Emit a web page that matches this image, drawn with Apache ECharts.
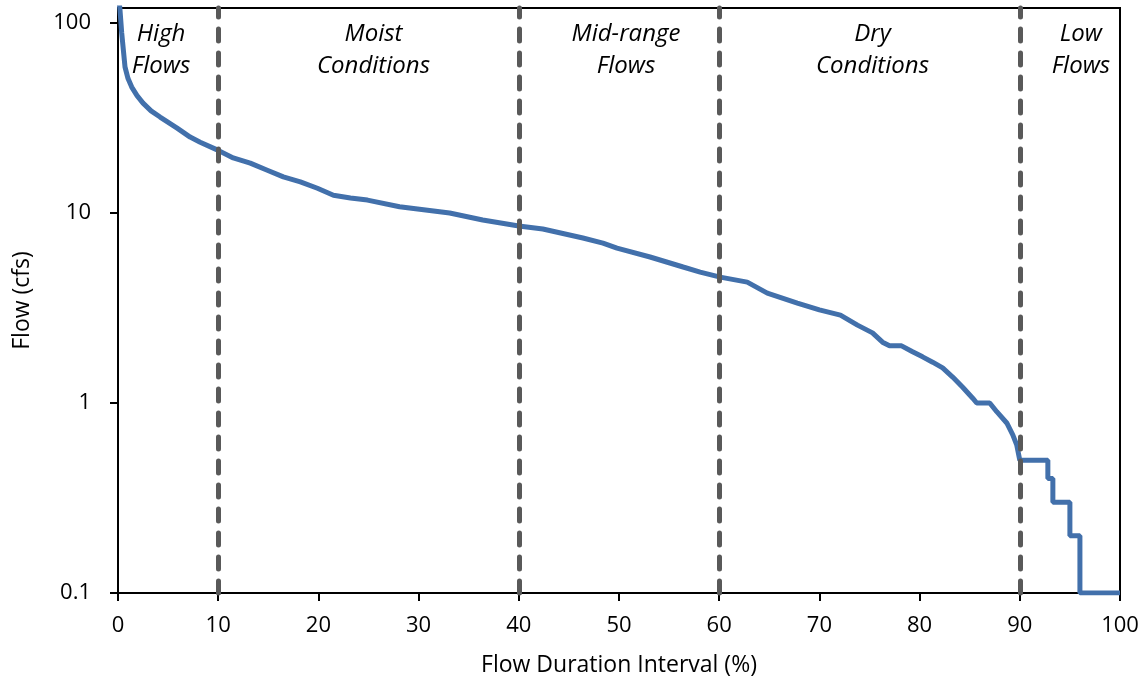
<!DOCTYPE html>
<html>
<head>
<meta charset="utf-8">
<script src="https://cdn.jsdelivr.net/npm/echarts@6/dist/echarts.min.js"></script>
<style>
  html, body { margin: 0; padding: 0; background: #fff; }
  #chart { width: 1146px; height: 683px; }
</style>
</head>
<body>
<div id="chart"></div>
<script>
// flow duration curve
var durationPct = [0, 0.2, 0.37, 0.7, 1.0, 1.37, 1.9, 2.5, 3.3, 4.2, 5.9, 7.2, 8.2, 9.9, 11.5, 13.2, 14.9, 16.5, 18.2, 19.9, 21.5, 23.2, 24.9,
  28.1, 33.1, 36.4, 40.0, 42.4, 46.4, 48.4, 49.8, 53.1, 56.4, 58.1, 60.1, 62.8, 64.8, 67.8, 70, 72.1, 73.8, 75.3, 76.3,
  77.0, 78.2, 79.3, 80.3, 81.3, 82.3, 83.3, 84.3, 85.3, 85.7, 87.0, 87.7, 88.7, 89.3, 89.7, 90.0, 92.8, 92.8, 93.3, 93.3,
  95.0, 95.0, 96.0, 96.0, 100];
var flowCfs = [150, 117, 88.6, 58.7, 51, 46, 41.5, 37.9, 34.5, 32, 28, 25.1, 23.6, 21.5, 19.5, 18.3, 16.8, 15.5, 14.6, 13.5, 12.4, 12.0, 11.7,
  10.8, 10.0, 9.19, 8.55, 8.24, 7.39, 6.95, 6.54, 5.87, 5.20, 4.89, 4.60, 4.33, 3.79, 3.36, 3.09, 2.90, 2.57, 2.34, 2.09,
  2.0, 2.0, 1.86, 1.75, 1.64, 1.53, 1.37, 1.21, 1.06, 1.0, 1.0, 0.9, 0.785, 0.68, 0.6, 0.5, 0.5, 0.4, 0.4, 0.3,
  0.3, 0.2, 0.2, 0.1, 0.1];

var zoneBreaks = [10, 40, 60, 90];
var zoneNames = ['High\nFlows', 'Moist\nConditions', 'Mid-range\nFlows', 'Dry\nConditions', 'Low\nFlows'];
var zoneCenters = [4.3, 25.5, 50.7, 75.3, 96.1];
var yTicks = [0.1, 1, 10, 100];

var font = 'Open Sans';
var chart = echarts.init(document.getElementById('chart'));

var points = durationPct.map(function (x, i) { return [x, flowCfs[i]]; });

var option = {
  animation: false,
  grid: {
    left: 118, right: 26, top: 8, bottom: 90,
    show: true, borderColor: '#000', borderWidth: 2
  },
  xAxis: {
    type: 'value', min: 0, max: 100, interval: 10,
    name: 'Flow Duration Interval (%)', nameLocation: 'middle', nameGap: 61,
    nameTextStyle: { fontFamily: font, fontSize: 23, color: '#000' },
    axisLine: { lineStyle: { color: '#000', width: 2 } },
    axisTick: { length: 8, lineStyle: { color: '#000', width: 2 } },
    axisLabel: { fontFamily: font, fontSize: 22, color: '#000', margin: 22 },
    splitLine: { show: false }
  },
  yAxis: {
    type: 'log', logBase: 10, min: 0.1, max: 120,
    name: 'Flow (cfs)', nameLocation: 'middle', nameGap: 84,
    nameTextStyle: { fontFamily: font, fontSize: 23, color: '#000' },
    axisLine: { lineStyle: { color: '#000', width: 2 } },
    axisTick: { length: 8, customValues: yTicks, lineStyle: { color: '#000', width: 2 } },
    axisLabel: { fontFamily: font, fontSize: 22, color: '#000', margin: 27, customValues: yTicks },
    splitLine: { show: false }
  },
  series: [{
    type: 'line',
    data: points,
    showSymbol: false,
    lineStyle: { color: '#4270ab', width: 5 },
    z: 3,
    markLine: {
      silent: true,
      symbol: 'none',
      label: { show: false },
      lineStyle: { color: '#595959', width: 5, type: [12, 12], cap: 'round' },
      data: zoneBreaks.map(function (v) { return { xAxis: v }; })
    }
  }]
};
chart.setOption(option);

// zone labels along the top
var graphics = zoneNames.map(function (txt, i) {
  var px = chart.convertToPixel({ xAxisIndex: 0 }, zoneCenters[i]);
  return {
    type: 'text',
    x: px, y: 18,
    style: {
      text: txt, fontFamily: font, fontStyle: 'italic', fontSize: 24,
      lineHeight: 32, fill: '#000', align: 'center', verticalAlign: 'top'
    },
    z: 10
  };
});
chart.setOption({ graphic: graphics });
</script>
</body>
</html>
